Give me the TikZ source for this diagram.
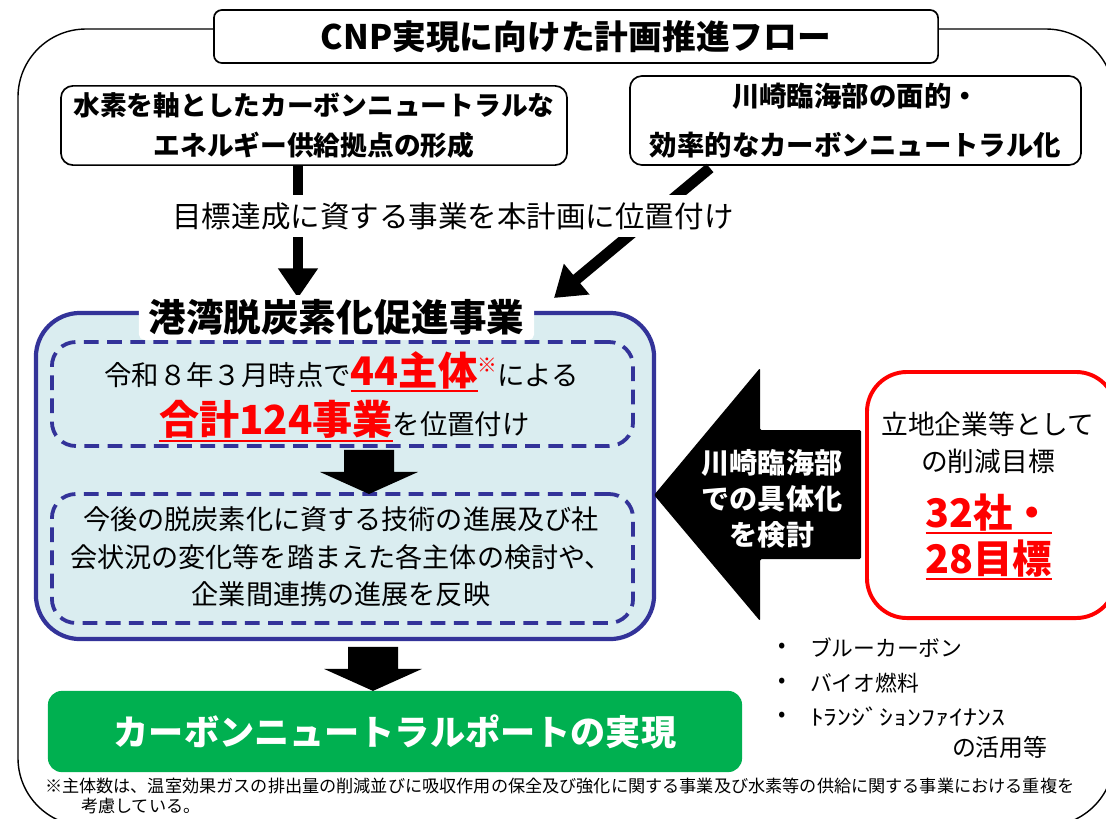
\documentclass[tikz,border=0pt]{standalone}
\usepackage{fontspec}
\setmainfont{Noto Sans CJK JP}
\usetikzlibrary{arrows.meta,calc,positioning}
\definecolor{portblue}{HTML}{333399}
\definecolor{portfill}{HTML}{DAEDF0}
\definecolor{portgreen}{HTML}{00B050}
\newcommand{\fsz}[2]{\fontsize{#1pt}{#2pt}\selectfont}
\newcommand{\redul}[1]{{\setbox0=\hbox{#1}\rlap{\rule[-4.8pt]{\wd0}{1.4pt}}\box0}}
\newcommand{\downblock}[1]{\fill (#1) -- ++(-49,-22) -- ++(24,0) -- ++(0,-22) -- ++(50,0) -- ++(0,22) -- ++(24,0) -- cycle;}
\begin{document}
\begin{tikzpicture}[x=0.025cm,y=-0.025cm,
	every node/.style={inner sep=0pt,outer sep=0pt},
	roundbox/.style={draw,line width=1.2pt,fill=white,rounded corners=0.3cm,align=center},
	dashbox/.style={draw=portblue,line width=2.7pt,dash pattern=on 10.5pt off 6pt,rounded corners=0.6cm,minimum width=14.525cm},
	fatarrow/.style={line width=7.8pt,-{Triangle[length=21pt,width=27pt]}},
	redtext/.style={text=red,font=\fsz{28}{33}\bfseries,align=center},
	]
\useasboundingbox (0,0) rectangle (1106,818);
\clip (0,0) rectangle (1106,818);
\fill[white] (0,0) rectangle (1106,818);

\draw[line width=1pt,rounded corners=1.7cm] (18,29) rectangle (1114,826);
\node[roundbox,rounded corners=0.2cm,minimum width=18.1cm,minimum height=1.325cm,font=\fsz{24}{28}\bfseries] (title) at (576,36.5) {CNP実現に向けた計画推進フロー};

\node[roundbox,minimum width=12.65cm,minimum height=1.98cm,font=\fsz{19}{29}\bfseries] (box1) at (314,125.5) {水素を軸としたカーボンニュートラルな\\エネルギー供給拠点の形成};
\node[roundbox,minimum width=11.275cm,minimum height=2.225cm,font=\fsz{19.5}{35}\bfseries] (box2) at (855.5,120.5) {川崎臨海部の面的・\\効率的なカーボンニュートラル化};

\coordinate (in1) at (298,298);
\coordinate (in2) at (554,298);
\draw[fatarrow] (in1 |- box1.south) -- (in1);
\draw[fatarrow] ($(box2.south west)+(80,3)$) -- (in2);
\node[fill=white,minimum height=1.05cm,inner xsep=3pt,font=\fsz{21}{25}] (plantext) at (453,216) {目標達成に資する事業を本計画に位置付け};

\node[draw=portblue,fill=portfill,line width=3pt,rounded corners=1.1cm,minimum width=15.45cm,minimum height=8.15cm] (promo) at (345,476) {};
\node[fill=white,rounded corners=4pt,inner xsep=7pt,minimum height=1.125cm,font=\fsz{26.7}{30}\bfseries] (promotitle) at (336.5,317.5) {港湾脱炭素化促進事業};

\node[dashbox,minimum height=2.6cm] (dashA) at (342.5,394) {};
\node[dashbox,minimum height=3.225cm] (dashB) at (342.5,558.5) {};
\node[font=\fsz{19.5}{24}] (lineA1) at (341.5,372) {令和８年３月時点で{\color{red}\bfseries\fsz{28}{30}\redul{44主体}\raisebox{9pt}{\mdseries\fsz{14}{14}※}}による};
\node[font=\fsz{19.5}{24}] (lineA2) at (344.5,421) {{\color{red}\bfseries\fsz{28.5}{30}\redul{合計124事業}}を位置付け};
\node[font=\fsz{19.3}{26.7},align=center] (lineB) at (341,557) {今後の脱炭素化に資する技術の進展及び社\\会状況の変化等を踏まえた各主体の検討や、\\企業間連携の進展を反映};
\downblock{$(dashB.north)+(26.5,0)$}

\node[draw=red,line width=2.8pt,rounded corners=1cm,minimum width=6.225cm,minimum height=6.15cm] (target) at (991.5,495) {};
\node[font=\fsz{19}{26},align=center] (targettext) at (988,443) {立地企業等として\\の削減目標};
\node[redtext] (targetnum) at (989,537) {\redul{32社・}\\\redul{28目標}};

\coordinate (tip) at (promo.east |- target.west);
\fill[rounded corners=1pt] (tip) -- ++(106,-127) -- ++(0,62) -- ++(101,0) -- ++(0,129) -- ++(-101,0) -- ++(0,62) -- cycle;
\node[text=white,font=\fsz{20}{25.6}\bfseries,align=center] (detail) at (772,499) {川崎臨海部\\での具体化\\を検討};

\foreach \y/\txt in {648/ブルーカーボン,683/バイオ燃料,717/\scalebox{1.28}[1]{ﾄﾗﾝｼﾞｼｮﾝﾌｧｲﾅﾝｽ}}{
	\node[font=\fsz{15.5}{18}] (dot\y) at (782,\y) {•};
	\node[anchor=west,font=\fsz{15.5}{18}] (item\y) at (810,\y) {\txt};
}
\node[anchor=west,font=\fsz{17}{20}] (itemend) at (952,747) {の活用等};

\node[fill=portgreen,rounded corners=0.35cm,minimum width=17.35cm,minimum height=2.03cm,text=white,font=\fsz{25}{30}\bfseries] (port) at (395,731.5) {カーボンニュートラルポートの実現};
\downblock{$(port.north)+(-22,0)$}

\node[anchor=west,align=left,font=\fsz{12.2}{14.2}] (footnote) at (45,796) {※主体数は、温室効果ガスの排出量の削減並びに吸収作用の保全及び強化に関する事業及び水素等の供給に関する事業における重複を\\\hspace*{2.1em}考慮している。};
\end{tikzpicture}
\end{document}
